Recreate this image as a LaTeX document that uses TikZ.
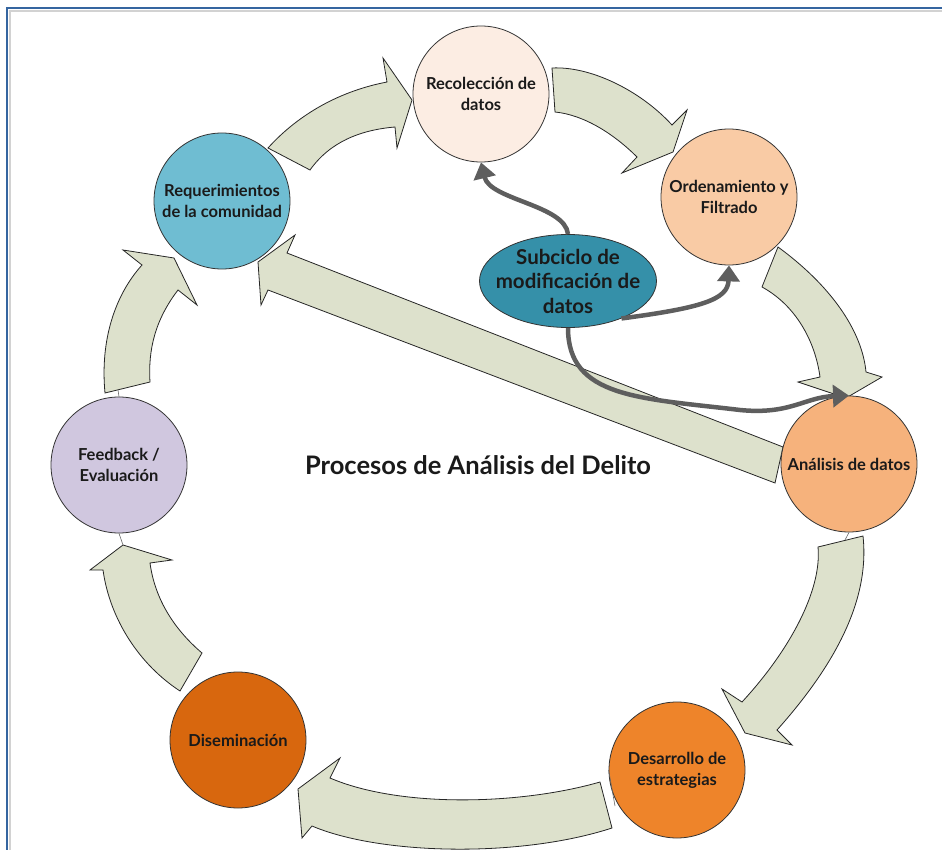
\documentclass[tikz,border=0pt]{standalone}
\usepackage{fontspec}
\setmainfont{Lato}
\usetikzlibrary{arrows.meta,shapes.geometric}
\definecolor{arrowfill}{HTML}{DDE1CC}
\definecolor{cRec}{HTML}{FCEDE3}
\definecolor{cOrd}{HTML}{F9CBA5}
\definecolor{cAna}{HTML}{F6B27C}
\definecolor{cDes}{HTML}{EE842A}
\definecolor{cDis}{HTML}{D8670E}
\definecolor{cFee}{HTML}{D0C7DF}
\definecolor{cReq}{HTML}{6FBDD2}
\definecolor{cSub}{HTML}{3590A9}
\definecolor{conn}{HTML}{5E5E5E}
\definecolor{frameblue}{HTML}{3565A0}
\definecolor{ink}{HTML}{1A1A1A}
\begin{document}
\begin{tikzpicture}[x=1pt,y=-1pt,
  circ/.style={circle, draw=black!80, line width=0.8pt, minimum size=136pt, inner sep=0pt, align=center,
    font=\bfseries\fontsize{16.5}{21}\selectfont, text=ink},
  blk/.style={fill=arrowfill, draw=black!85, line width=0.8pt, line join=miter},
  subarrow/.style={draw=conn, line width=4.5pt, -{Triangle[length=16pt,width=22pt]}},
  tick/.style={draw=black!60, line width=0.6pt}]
\useasboundingbox (0,0) rectangle (942,850);
% frame
\draw[gray!35, line width=2pt] (10,860) -- (10,11) -- (960,11);
\draw[frameblue, line width=2.6pt] (7,860) -- (7,8) -- (960,8);

% block arrows
\draw[blk] (268,148) .. controls (295,118) and (335,92) .. (387,82) -- (383,58) -- (412,100) -- (397,148) -- (395,127) .. controls (360,130) and (330,142) .. (310,170) -- cycle;
\draw[blk] (552,68) .. controls (590,66) and (640,90) .. (672,125) -- (687,110) -- (673,152) -- (622,173) -- (637,157) .. controls (615,135) and (585,115) .. (555,112) -- cycle;
\draw[blk] (778,247) .. controls (830,285) and (862,330) .. (866,372) -- (882,377) -- (846,398) -- (798,382) -- (820,377) .. controls (815,340) and (795,305) .. (762,287) -- cycle;
\draw[blk] (863,536) .. controls (870,600) and (835,665) .. (777,730) -- (792,745) -- (745,733) -- (722,689) -- (742,702) .. controls (790,650) and (822,590) .. (818,547) -- cycle;
\draw[blk] (600,782) .. controls (520,805) and (400,808) .. (330,778) -- (340,758) -- (298,789) -- (302,838) -- (312,826) .. controls (380,855) and (520,858) .. (612,828) -- cycle;
\draw[blk] (202,653) .. controls (175,630) and (155,600) .. (150,563) -- (172,560) -- (123,545) -- (90,570) -- (103,570) .. controls (110,620) and (140,665) .. (180,691) -- cycle;
\draw[blk] (105,393) .. controls (100,340) and (115,295) .. (142,265) -- (123,250) -- (174,258) -- (197,305) -- (178,290) .. controls (155,320) and (148,350) .. (150,382) -- cycle;
\draw[blk] (783,447) -- (287,253) -- (295,235) -- (258,262) -- (261,305) -- (268,290) -- (775,483) -- cycle;

% circles
\node[circ, fill=cRec] (rec) at (481,94) {Recolección de\\datos};
\node[circ, fill=cOrd] (ord) at (729,197) {Ordenamiento y\\Filtrado};
\node[circ, fill=cAna] (ana) at (849,464) {Análisis de datos};
\node[circ, fill=cDes] (des) at (677,770) {Desarrollo de\\estrategias};
\node[circ, fill=cDis] (dis) at (238,740) {Diseminación};
\node[circ, fill=cFee] (fee) at (119,465) {Feedback /\\Evaluación};
\node[circ, fill=cReq] (req) at (222,201) {Requerimientos\\de la comunidad};

% small joins
\coordinate (j1) at (123,545); \draw[tick] (fee.south) -- (j1);
\coordinate (j2) at (118,390); \draw[tick] (fee.north) -- (j2);
\coordinate (j3) at (190,692); \draw[tick] (dis.north west) -- (j3);
\coordinate (j4) at (845,540); \draw[tick] (ana.south) -- (j4);
\coordinate (j5) at (615,806); \draw[tick] (des.west) -- (j5);

% subcycle
\node[ellipse, draw=black!80, line width=0.8pt, fill=cSub, minimum width=177pt, minimum height=93pt, inner sep=0pt] (sub) at (568,281) {};
\node[align=center, inner sep=0pt, font=\bfseries\fontsize{20.5}{24.5}\selectfont, text=ink] (subtext) at (sub.center)
  {Subciclo de\\modificación de\\datos};
\draw[subarrow] (sub.north) .. controls (565,205) and (490,200) .. (rec.south);
\draw[subarrow] (sub.-35) .. controls (700,308) and (728,300) .. (ord.south);
\draw[subarrow] (sub.south) .. controls (568,398) and (640,398) .. (740,410) .. controls (790,415) and (805,397) .. (ana.north);

% title
\node[font=\bfseries\fontsize{25.5}{28}\selectfont, text=ink] (title) at (478,465) {Procesos de Análisis del Delito};
\end{tikzpicture}
\end{document}
